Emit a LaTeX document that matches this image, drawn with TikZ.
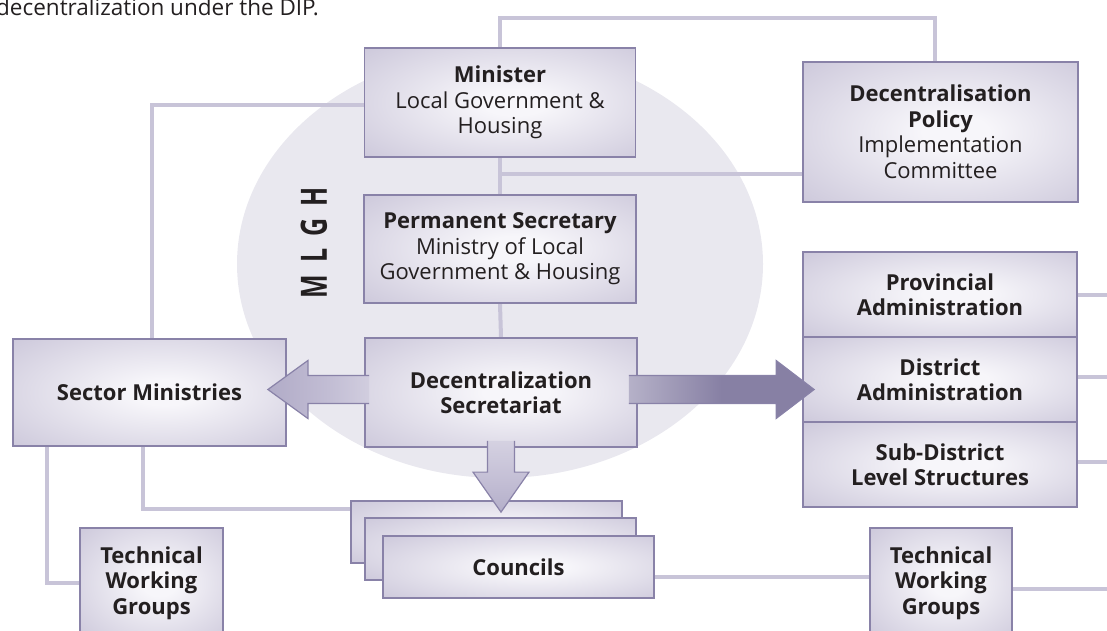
\documentclass[tikz,border=0pt]{standalone}
\usepackage{fontspec}
\usepackage{graphicx}
\setmainfont{Open Sans}
\usetikzlibrary{calc}

\definecolor{edge}{HTML}{8982A8}
\definecolor{wirec}{HTML}{C8C4D8}
\definecolor{halo}{HTML}{E9E8EF}
\definecolor{boxin}{HTML}{F7F6FA}
\definecolor{boxout}{HTML}{C6C1D6}
\definecolor{boxdeep}{HTML}{B1ABC7}
\definecolor{ink}{HTML}{231F20}
\definecolor{arrlight}{HTML}{E4E2EC}
\definecolor{arrsoft}{HTML}{C2BDD4}
\definecolor{arrmid}{HTML}{A29CBC}
\definecolor{arrdark}{HTML}{8780A4}

\pgfdeclarelayer{back}
\pgfsetlayers{back,main}

% soft glow inside every box
\pgfdeclareradialshading{boxglow}{\pgfpoint{3bp}{0bp}}{%
  color(0bp)=(boxin); color(6bp)=(boxin); color(42bp)=(boxout);
  color(62bp)=(boxdeep); color(80bp)=(boxdeep)}
% fills of the three block arrows
\pgfdeclarehorizontalshading{rightflow}{100bp}{%
  color(0bp)=(arrlight); color(50bp)=(arrdark); color(100bp)=(arrdark)}
\pgfdeclarehorizontalshading{leftflow}{100bp}{%
  color(0bp)=(arrmid); color(55bp)=(arrsoft); color(100bp)=(arrlight)}
\pgfdeclareverticalshading{downflow}{100bp}{%
  color(0bp)=(arrmid); color(45bp)=(arrsoft); color(100bp)=(arrlight)}

\tikzset{
  panel/.style={rectangle, draw=edge, line width=1.8pt, shading=boxglow,
    inner sep=0pt, align=center, text=ink,
    font=\fontsize{22}{25.5}\selectfont},
  wire/.style={draw=wirec, line width=4pt},
  arrowrim/.style={draw=edge, line width=1.2pt, line join=miter},
}

\begin{document}
\begin{tikzpicture}[x=1pt, y=-1pt]
\useasboundingbox (0,0) rectangle (1107,631);
\clip (0,0) rectangle (1107,631);

% light oval behind the ministry chain
\begin{pgfonlayer}{back}
  \fill[halo] (500,264) ellipse [x radius=263, y radius=214];
\end{pgfonlayer}

% introductory line of text
\node[anchor=base west, inner sep=0pt, text=ink,
      font=\fontsize{22.5}{26}\selectfont] (lead) at (-4,16)
  {decentralization under the DIP.};

% ministry label on the oval
\node[rotate=90, inner sep=0pt, text=ink,
      font=\bfseries\fontsize{25}{25}\selectfont] (mlgh) at (314,243)
  {\scalebox{1}[1.45]{M\hspace{12pt}L\hspace{12pt}G\hspace{12pt}H}};

% boxes (placed by centre)
\node[panel, minimum width=271, minimum height=109] (min)  at (500,102.5)
  {\textbf{Minister}\\Local Government \&\\Housing};
\node[panel, minimum width=275, minimum height=140] (dpic) at (940.5,132)
  {\textbf{Decentralisation}\\\textbf{Policy}\\Implementation\\Committee};
\node[panel, minimum width=272, minimum height=108] (ps)   at (500,249)
  {\textbf{Permanent Secretary}\\Ministry of Local\\Government \& Housing};
\node[panel, minimum width=272, minimum height=109] (ds)   at (501,392.5)
  {\textbf{Decentralization}\\\textbf{Secretariat}};
\node[panel, minimum width=273, minimum height=107] (sm)   at (149.5,392.5)
  {\textbf{Sector Ministries}};

\node[panel, minimum width=274, minimum height=85] (prov) at (940,294.5)
  {\textbf{Provincial}\\\textbf{Administration}};
\node[panel, minimum width=274, minimum height=85] (dist) at (940,379.5)
  {\textbf{District}\\\textbf{Administration}};
\node[panel, minimum width=274, minimum height=85] (sub)  at (940,464.5)
  {\textbf{Sub-District}\\\textbf{Level Structures}};

\node[panel, minimum width=143, minimum height=110] (twgl) at (151.5,583)
  {\textbf{Technical}\\\textbf{Working}\\\textbf{Groups}};
\node[panel, minimum width=142, minimum height=110] (twgr) at (941,583)
  {\textbf{Technical}\\\textbf{Working}\\\textbf{Groups}};

% stacked council boxes
\node[panel, minimum width=271, minimum height=62] (cback) at (486.5,532) {};
\node[panel, minimum width=271, minimum height=62] (cmid)  at (500.5,549) {};
\node[panel, minimum width=271, minimum height=62] (cfront) at (518.5,567)
  {\textbf{Councils}};

% free ends of lines running off to the right
\coordinate (rim) at (1107,0);
\coordinate (topbend) at (935,18);
\coordinate (tee) at ($(min.south)!0.45!(ps.north)$);

% connector lines, kept behind the boxes
\begin{pgfonlayer}{back}
  \draw[wire] (min.north) |- (topbend) -- (topbend |- dpic.north);
  \draw[wire] (min.south) -- (ps.north);
  \draw[wire] (tee) -- (tee -| dpic.west);
  \draw[wire] (ps.south) -- (ds.north);
  \draw[wire] ([yshift=-2.5pt]min.west) -| ([xshift=2.5pt]sm.north);
  \draw[wire] ([xshift=-102.5pt]sm.south) |- (twgl.west);
  \draw[wire] ([xshift=-6.5pt]sm.south) |- ([yshift=-9pt]cback.north west);
  \draw[wire] ([yshift=-10pt]cfront.east) -- ([yshift=-10pt]cfront.east -| twgr.west);
  \draw[wire] ([yshift=-6pt]twgr.east) -- ([yshift=-6pt]twgr.east -| rim);
  \draw[wire] (prov.east) -- (prov.east -| rim);
  \draw[wire] ([yshift=2.5pt]dist.east) -- ([yshift=2.5pt]dist.east -| rim);
  \draw[wire] ([yshift=2.5pt]sub.east) -- ([yshift=2.5pt]sub.east -| rim);
\end{pgfonlayer}

% block arrow: secretariat -> sector ministries
\coordinate (la) at ($(ds.west)+(5,-3)$);
\coordinate (lt) at ($(sm.east)+(-19,-3)$);
\shade[shading=leftflow]
  ($(la)+(0,-14)$) -- ($(lt)+(40,-14)$) -- ($(lt)+(40,-29)$) -- (lt)
  -- ($(lt)+(40,29)$) -- ($(lt)+(40,14)$) -- ($(la)+(0,14)$) -- cycle;
\draw[arrowrim]
  ($(la)+(0,-14)$) -- ($(lt)+(40,-14)$) -- ($(lt)+(40,-29)$) -- (lt)
  -- ($(lt)+(40,29)$) -- ($(lt)+(40,14)$) -- ($(la)+(0,14)$);

% block arrow: secretariat -> administration levels
\coordinate (ra) at ($(ds.east)+(-9,-3)$);
\coordinate (rt) at ($(dist.west)+(12,10)$);
\shade[shading=rightflow]
  ($(ra)+(0,-14)$) -- ($(rt)+(-38,-14)$) -- ($(rt)+(-38,-29)$) -- (rt)
  -- ($(rt)+(-38,29)$) -- ($(rt)+(-38,14)$) -- ($(ra)+(0,14)$) -- cycle;
\draw[arrowrim]
  ($(ra)+(0,-14)$) -- ($(rt)+(-38,-14)$) -- ($(rt)+(-38,-29)$) -- (rt)
  -- ($(rt)+(-38,29)$) -- ($(rt)+(-38,14)$) -- ($(ra)+(0,14)$);

% block arrow: secretariat -> councils
\coordinate (da) at ($(ds.south)+(0,-7)$);
\coordinate (dt) at ($(cback.north)+(14.5,12)$);
\shade[shading=downflow]
  ($(da)+(-13.5,0)$) -- ($(dt)+(-13.5,-40)$) -- ($(dt)+(-28,-40)$) -- (dt)
  -- ($(dt)+(28,-40)$) -- ($(dt)+(13.5,-40)$) -- ($(da)+(13.5,0)$) -- cycle;
\draw[arrowrim]
  ($(da)+(-13.5,0)$) -- ($(dt)+(-13.5,-40)$) -- ($(dt)+(-28,-40)$) -- (dt)
  -- ($(dt)+(28,-40)$) -- ($(dt)+(13.5,-40)$) -- ($(da)+(13.5,0)$);

\end{tikzpicture}
\end{document}
